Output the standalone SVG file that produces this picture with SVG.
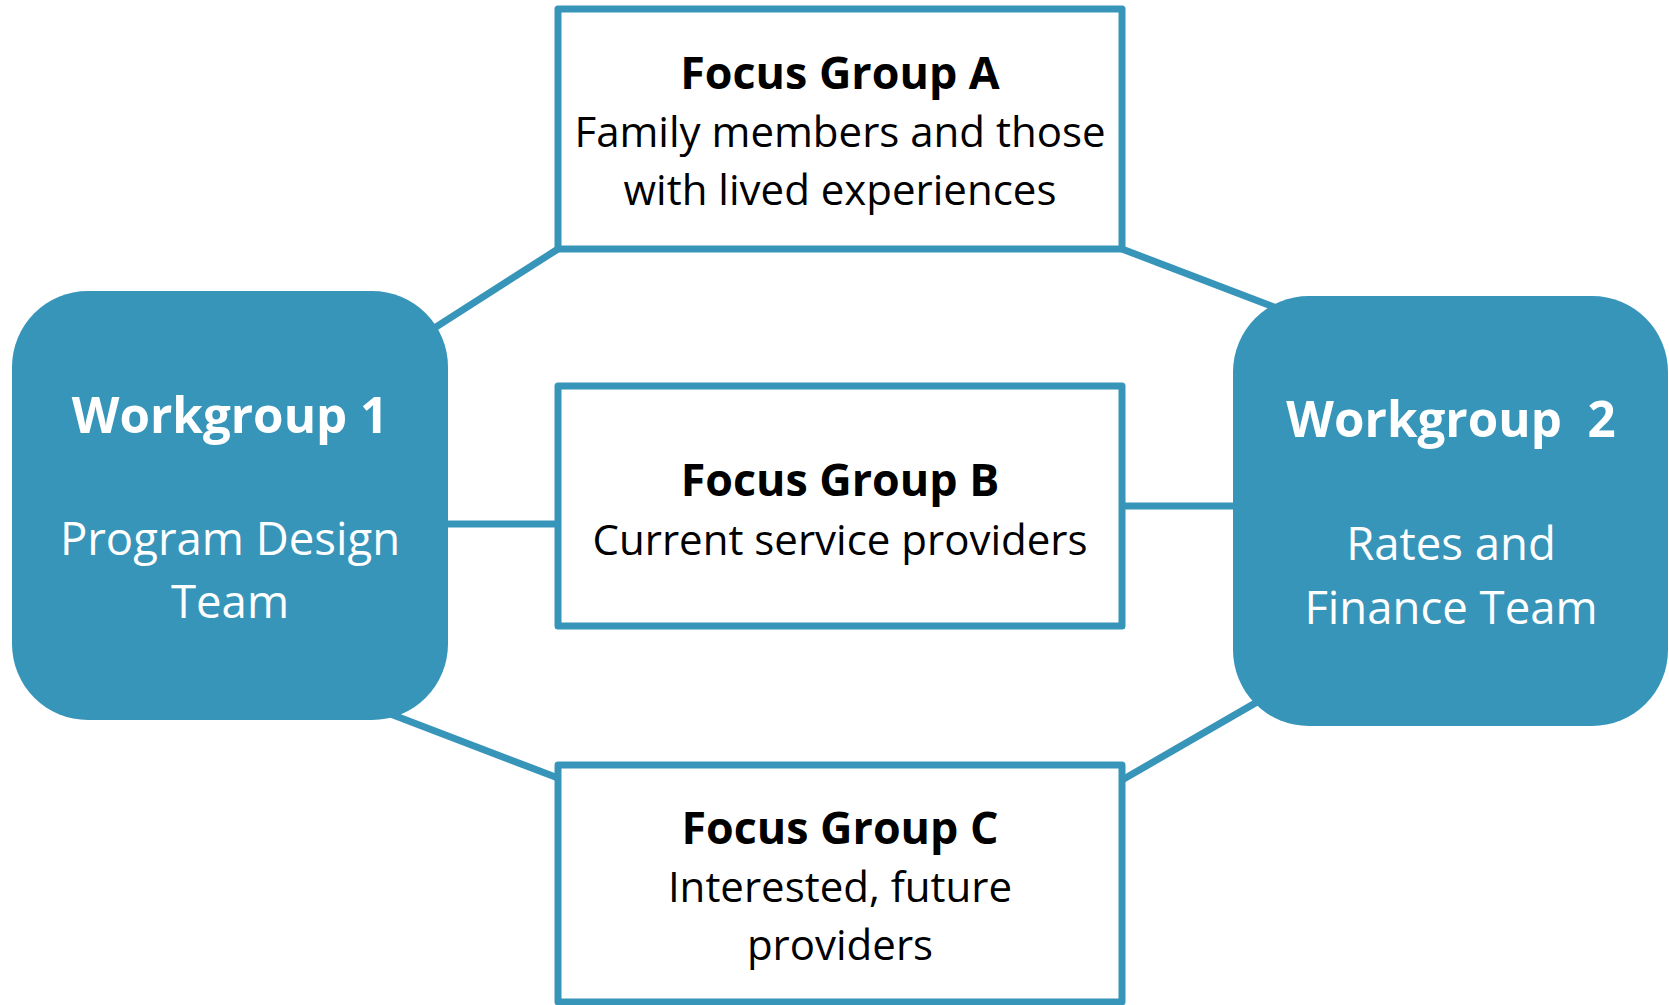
<svg xmlns="http://www.w3.org/2000/svg" width="1669" height="1005" viewBox="0 0 1669 1005">
<style>
.conn{stroke:#3795BA;stroke-width:7;fill:none}
.focus{fill:#FFFFFF;stroke:#3795BA;stroke-width:7;stroke-linejoin:round}
.wg{fill:#3795BA}
.ft{font-family:"Open Sans","Liberation Sans",sans-serif;font-weight:700;font-size:44.8px;fill:#000;text-anchor:middle}
.fb{font-family:"Open Sans","Liberation Sans",sans-serif;font-size:42px;fill:#000;text-anchor:middle}
.wt{font-family:"Open Sans","Liberation Sans",sans-serif;font-weight:700;font-size:49.3px;fill:#FFF;text-anchor:middle}
.wb{font-family:"Open Sans","Liberation Sans",sans-serif;font-size:45.5px;fill:#FFF;text-anchor:middle}
</style>
<rect width="1669" height="1005" fill="#FFFFFF"/>
<g id="connectors">
<line class="conn" x1="400" y1="350" x2="558" y2="249"/>
<line class="conn" x1="1122" y1="249" x2="1300" y2="317"/>
<line class="conn" x1="440" y1="524" x2="558" y2="524"/>
<line class="conn" x1="1122" y1="506" x2="1240" y2="506"/>
<line class="conn" x1="380" y1="710" x2="558" y2="778"/>
<line class="conn" x1="1122" y1="780" x2="1290" y2="683"/>
</g>
<g id="focus-a">
<rect class="focus" x="558" y="9" width="564" height="240"/>
<text class="ft" x="840" y="89">Focus Group A</text>
<text class="fb" x="840" y="147">Family members and those</text>
<text class="fb" x="840" y="205">with lived experiences</text>
</g>
<g id="focus-b">
<rect class="focus" x="558" y="386" width="564" height="240"/>
<text class="ft" x="840" y="496">Focus Group B</text>
<text class="fb" x="840" y="555">Current service providers</text>
</g>
<g id="focus-c">
<rect class="focus" x="558" y="765" width="564" height="237"/>
<text class="ft" x="840" y="844">Focus Group C</text>
<text class="fb" x="840" y="902">Interested, future</text>
<text class="fb" x="840" y="960">providers</text>
</g>
<g id="workgroup-1">
<rect class="wg" x="12" y="291" width="436" height="429" rx="76" ry="76"/>
<text class="wt" x="230" y="433">Workgroup 1</text>
<text class="wb" x="230" y="555">Program Design</text>
<text class="wb" x="230" y="618">Team</text>
</g>
<g id="workgroup-2">
<rect class="wg" x="1233" y="296" width="435" height="430" rx="76" ry="76"/>
<text class="wt" x="1451" y="437" xml:space="preserve">Workgroup  2</text>
<text class="wb" x="1451" y="560">Rates and</text>
<text class="wb" x="1451" y="624">Finance Team</text>
</g>
</svg>
